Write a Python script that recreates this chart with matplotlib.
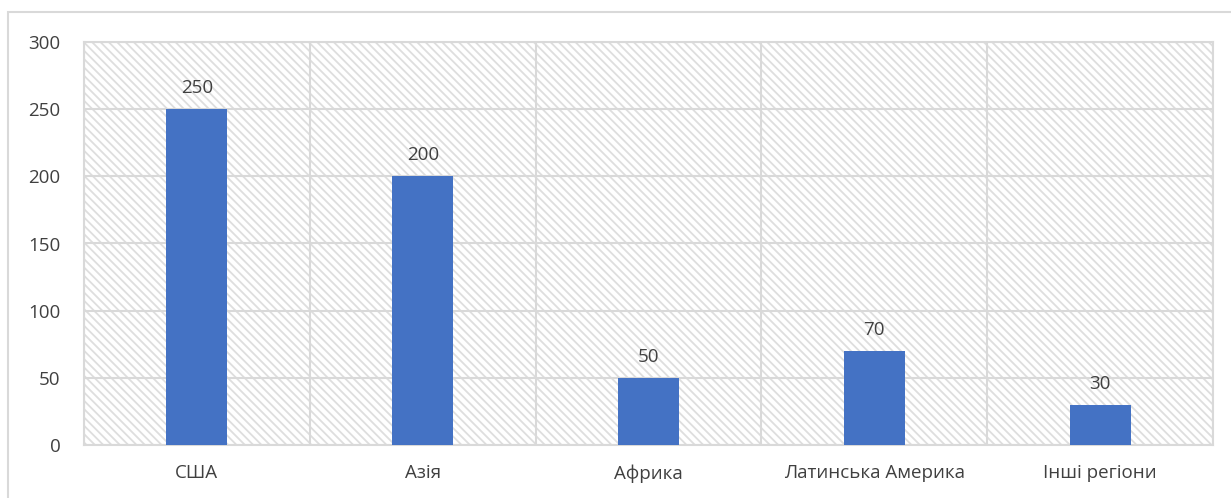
import matplotlib
matplotlib.use("Agg")
import matplotlib.pyplot as plt
from matplotlib.patches import Rectangle

# дані
regions = ["США", "Азія", "Африка", "Латинська Америка", "Інші регіони"]
values = [250, 200, 50, 70, 30]

plt.rcParams['font.family'] = ['Open Sans', 'DejaVu Sans']
plt.rcParams['hatch.color'] = '#dedede'
plt.rcParams['hatch.linewidth'] = 1.3

fig = plt.figure(figsize=(12.31, 4.98), dpi=100)
ax = fig.add_axes([84 / 1231, 53 / 498, 1129 / 1231, 403 / 498])

# рамка навколо діаграми
fig.patches.append(Rectangle((8 / 1231, -0.05), 1.1, 0.05 + 486 / 498,
                             transform=fig.transFigure, fill=False,
                             edgecolor='#d9d9d9', linewidth=1.5))

# заштрихований фон
ax.add_patch(Rectangle((0, 0), 1, 1, transform=ax.transAxes, facecolor='white',
                       edgecolor='#dedede', hatch='\\' * 4, linewidth=0, zorder=0))

x = range(len(regions))
bars = ax.bar(x, values, width=0.27, color='#4472C4', zorder=3)
for b, v in zip(bars, values):
    ax.text(b.get_x() + b.get_width() / 2, v + 9, str(v), ha='center', va='bottom',
            fontsize=13.5, color='#404040', zorder=4)

ax.set_xlim(-0.5, len(regions) - 0.5)
ax.set_ylim(0, 300)
ax.set_yticks(range(0, 301, 50))
ax.set_xticks(list(x))
ax.set_xticklabels(regions)
ax.set_xticks([i + 0.5 for i in range(-1, len(regions))], minor=True)

ax.grid(axis='y', which='major', color='#d9d9d9', linewidth=1.5, zorder=1)
ax.grid(axis='x', which='minor', color='#d9d9d9', linewidth=1.5, zorder=1)
ax.set_axisbelow(True)

for s in ax.spines.values():
    s.set_color('#d9d9d9')
    s.set_linewidth(1.5)

ax.tick_params(which='both', length=0)
ax.tick_params(axis='y', labelsize=13.5, labelcolor='#404040', pad=17)
ax.tick_params(axis='x', labelsize=13.5, labelcolor='#404040', pad=14)

fig.savefig("out.png", dpi=100)
